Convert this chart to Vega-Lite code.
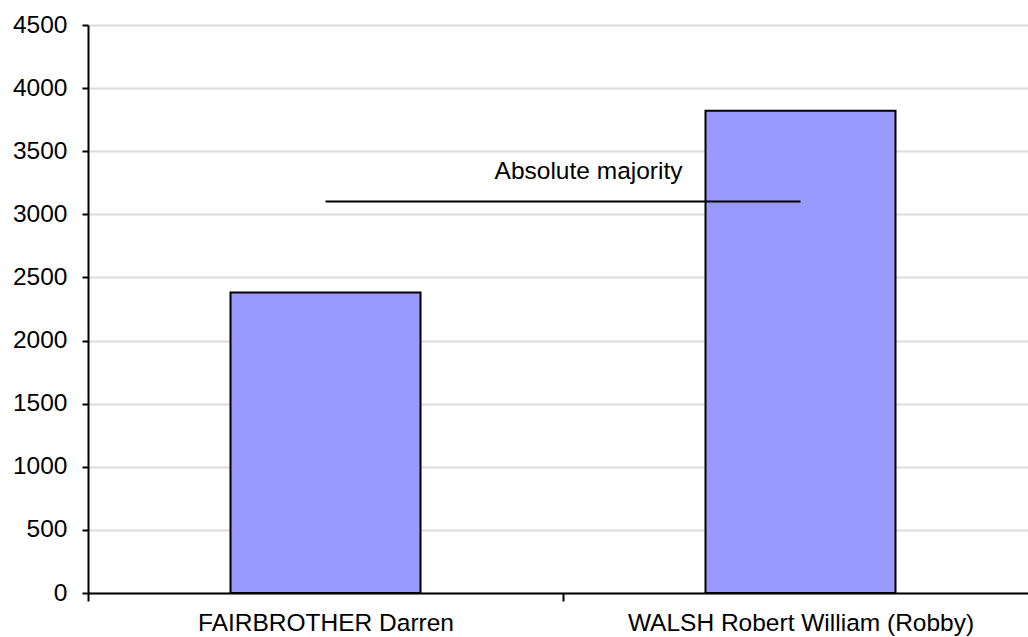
{
  "$schema": "https://vega.github.io/schema/vega-lite/v6.json",
  "autosize": {"type": "none"},
  "width": 940,
  "height": 568,
  "padding": {"left": 88, "top": 25, "right": 0, "bottom": 44},
  "background": "white",
  "config": {
    "view": {"stroke": null},
    "font": "Liberation Sans",
    "axis": {
      "labelFont": "Liberation Sans",
      "labelFontSize": 24.5,
      "labelColor": "black",
      "labelLimit": 0,
      "domainColor": "black",
      "domainWidth": 2,
      "tickColor": "black",
      "tickWidth": 2,
      "title": null
    }
  },
  "datasets": {
    "votes": [
      {"candidate": "FAIRBROTHER Darren", "votes": 2380},
      {"candidate": "WALSH Robert William (Robby)", "votes": 3820}
    ],
    "majority": [
      {"from": "FAIRBROTHER Darren", "to": "WALSH Robert William (Robby)", "value": 3101, "label": "Absolute majority"}
    ]
  },
  "layer": [
    {
      "data": {"name": "votes"},
      "mark": {"type": "bar", "fill": "#9999ff", "stroke": "black", "strokeWidth": 2, "width": {"band": 0.4}},
      "encoding": {
        "x": {
          "field": "candidate",
          "type": "nominal",
          "sort": null,
          "scale": {"range": [0, 950], "paddingInner": 0, "paddingOuter": 0},
          "axis": {"labelAngle": 0, "tickBand": "extent", "tickSize": 8, "labelPadding": 10, "grid": false}
        },
        "y": {
          "field": "votes",
          "type": "quantitative",
          "scale": {"domain": [0, 4500], "nice": false},
          "axis": {
            "values": [0, 500, 1000, 1500, 2000, 2500, 3000, 3500, 4000, 4500],
            "format": "d",
            "tickSize": 6,
            "labelPadding": 15,
            "grid": true,
            "gridColor": "#dcdcdc",
            "gridWidth": 2
          }
        }
      }
    },
    {
      "data": {"name": "majority"},
      "mark": {"type": "rule", "color": "black", "strokeWidth": 2},
      "encoding": {
        "x": {"field": "from", "type": "nominal"},
        "x2": {"field": "to"},
        "y": {"field": "value", "type": "quantitative"}
      }
    },
    {
      "data": {"name": "majority"},
      "mark": {"type": "text", "align": "right", "baseline": "alphabetic", "dx": -118, "dy": -23, "fontSize": 24.5, "color": "black", "font": "Liberation Sans"},
      "encoding": {
        "x": {"field": "to", "type": "nominal"},
        "y": {"field": "value", "type": "quantitative"},
        "text": {"field": "label"}
      }
    }
  ]
}
